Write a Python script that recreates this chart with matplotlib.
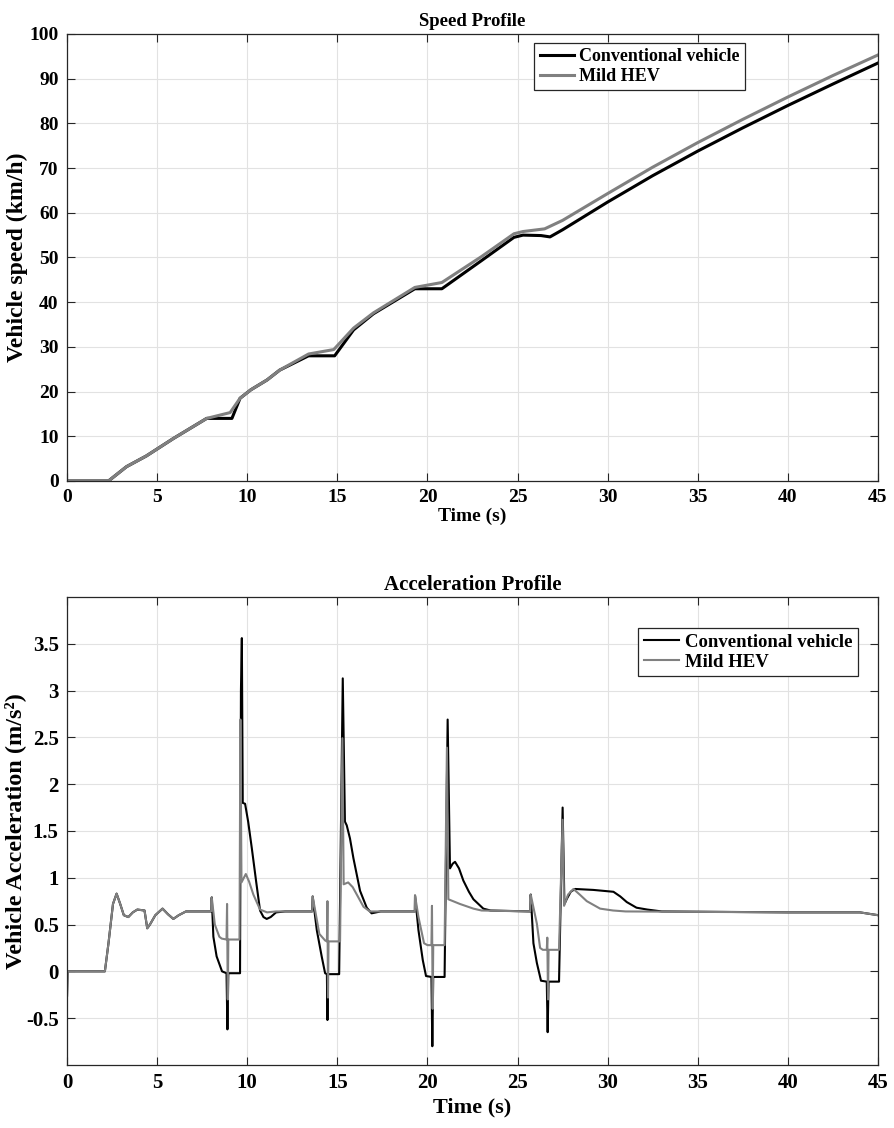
import numpy as np
import matplotlib
matplotlib.use('Agg')
import matplotlib.pyplot as plt

plt.rcParams['font.family'] = ['Liberation Serif', 'DejaVu Serif']
plt.rcParams['font.weight'] = 'bold'
plt.rcParams['axes.labelweight'] = 'bold'
plt.rcParams['axes.titleweight'] = 'bold'

# Speed profile (km/h)
t_speed_conv = [0, 2.3, 3.3, 4.4, 5.9, 7.75, 9.15, 9.6, 10.2, 11.1, 11.8, 13.4, 14.85,
                15.9, 17.0, 19.3, 20.8, 23.0, 24.8, 25.3, 26.3, 26.8, 27.5, 30, 32.5,
                35, 37.5, 40, 42.5, 45]
v_conv = [0, 0, 3.2, 5.6, 9.5, 14.0, 14.0, 18.5, 20.4, 22.6, 24.8, 28.0, 28.0,
          33.8, 37.4, 43.0, 43.0, 49.3, 54.5, 55.0, 54.9, 54.6, 56.2, 62.4, 68.3,
          73.8, 79.0, 84.0, 88.8, 93.5]

t_speed_hev = [0, 2.3, 3.3, 4.4, 5.9, 7.75, 9.05, 9.6, 10.2, 11.1, 11.8, 13.4, 14.8,
               15.9, 17.0, 19.3, 20.8, 23.0, 24.8, 25.3, 26.5, 27.5, 30, 32.5,
               35, 37.5, 40, 42.5, 45]
v_hev = [0, 0, 3.2, 5.6, 9.5, 14.0, 15.3, 18.5, 20.4, 22.6, 24.8, 28.4, 29.4,
         34.2, 37.6, 43.3, 44.4, 50.2, 55.3, 55.8, 56.4, 58.3, 64.3, 70.2,
         75.7, 80.9, 85.9, 90.7, 95.3]

# Acceleration profile (m/s^2)
t_acc_start = [0, 0.03, 2.1, 2.3, 2.55, 2.75, 2.95, 3.15, 3.4, 3.65, 3.9, 4.3, 4.45,
               4.6, 4.9, 5.3, 5.6, 5.9, 6.2, 6.6, 8.0]
a_acc_start = [-0.26, 0, 0, 0.3, 0.72, 0.83, 0.72, 0.6, 0.58, 0.63, 0.66, 0.65, 0.46,
               0.5, 0.6, 0.67, 0.61, 0.56, 0.6, 0.64, 0.64]

t_acc_conv = [8.03, 8.12, 8.3, 8.6, 8.85, 8.9, 8.95, 9.6, 9.65, 9.7, 9.75, 9.88, 10.05,
              10.25, 10.5, 10.71, 10.9, 11.08, 11.3, 11.6, 12.1, 13.6,
              13.63, 13.86, 14.13, 14.32, 14.42, 14.45, 14.48, 15.1, 15.3, 15.42, 15.52,
              15.7, 15.89, 16.26, 16.63, 16.9, 17.4, 19.3,
              19.31, 19.5, 19.74, 19.92, 20.22, 20.27, 20.32, 20.95, 21.12, 21.25, 21.4,
              21.53, 21.75, 21.99, 22.3, 22.55, 23.1, 23.5, 25.7,
              25.73, 25.88, 26.07, 26.3, 26.62, 26.67, 26.72, 27.3, 27.5, 27.6, 27.75,
              27.95, 28.19, 29.2, 30.32, 30.7, 31.06, 31.6, 32.2, 33.0, 40.0, 44.0, 45.0]
a_acc_conv = [0.79, 0.37, 0.16, 0.0, -0.02, -0.62, -0.02, -0.02, 3.0, 3.56, 1.8, 1.79, 1.6,
              1.32, 0.95, 0.65, 0.58, 0.56, 0.58, 0.63, 0.64, 0.64,
              0.80, 0.44, 0.16, -0.02, -0.03, -0.52, -0.03, -0.03, 3.13, 1.6, 1.56,
              1.42, 1.21, 0.86, 0.68, 0.62, 0.64, 0.64,
              0.81, 0.44, 0.12, -0.05, -0.06, -0.8, -0.06, -0.06, 2.69, 1.1, 1.15,
              1.17, 1.1, 0.97, 0.85, 0.77, 0.67, 0.65, 0.64,
              0.82, 0.30, 0.09, -0.1, -0.11, -0.65, -0.11, -0.11, 1.75, 0.72, 0.78,
              0.85, 0.88, 0.87, 0.85, 0.8, 0.74, 0.68, 0.66, 0.64, 0.63, 0.63, 0.60]

t_acc_hev = [8.03, 8.2, 8.45, 8.58, 8.85, 8.88, 8.92, 8.95, 9.57, 9.62, 9.68, 9.92, 10.1,
             10.34, 10.71, 11.1, 11.6, 13.6,
             13.63, 14.0, 14.32, 14.42, 14.45, 14.48, 14.51, 15.15, 15.28, 15.35, 15.6,
             15.85, 16.08, 16.45, 16.8, 19.3,
             19.31, 19.5, 19.81, 20.0, 20.22, 20.25, 20.29, 20.32, 20.95, 21.08, 21.16,
             21.8, 22.55, 23.0, 25.7,
             25.73, 26.07, 26.25, 26.4, 26.62, 26.65, 26.69, 26.72, 27.3, 27.5, 27.58,
             27.8, 28.1, 28.45, 28.84, 29.58, 30.3, 31.0, 40.0, 44.0, 45.0]
a_acc_hev = [0.79, 0.5, 0.37, 0.35, 0.34, 0.72, -0.3, 0.34, 0.34, 2.69, 0.95, 1.04, 0.96,
             0.82, 0.66, 0.63, 0.64, 0.64,
             0.80, 0.40, 0.33, 0.32, 0.75, -0.28, 0.32, 0.32, 2.49, 0.93, 0.95,
             0.9, 0.82, 0.69, 0.64, 0.64,
             0.81, 0.58, 0.30, 0.28, 0.28, 0.70, -0.4, 0.28, 0.28, 2.39, 0.77,
             0.72, 0.67, 0.65, 0.64,
             0.82, 0.51, 0.25, 0.23, 0.23, 0.36, -0.3, 0.23, 0.23, 1.62, 0.7,
             0.82, 0.88, 0.82, 0.75, 0.67, 0.65, 0.64, 0.63, 0.63, 0.60]

labels = ['Conventional vehicle', 'Mild HEV']
black = '#000000'
gray = '#808080'
axis_col = '#262626'

fig = plt.figure(figsize=(8.95, 11.28), dpi=100)
ax1 = fig.add_axes([0.0749, 0.5736, 0.9061, 0.3963])
ax2 = fig.add_axes([0.0749, 0.0559, 0.9061, 0.4149])


def style_axes(ax, fs):
    ax.grid(True, color='#e2e2e2', lw=0.8)
    ax.set_axisbelow(True)
    ax.tick_params(direction='in', top=True, right=True, length=6, width=0.8,
                   color=axis_col, labelsize=fs, pad=6)
    for sp in ax.spines.values():
        sp.set_color(axis_col)
        sp.set_linewidth(0.9)


# Speed profile
ax1.plot(t_speed_conv, v_conv, color=black, lw=2.2, label=labels[0])
ax1.plot(t_speed_hev, v_hev, color=gray, lw=2.2, label=labels[1])
ax1.set_xlim(0, 45)
ax1.set_ylim(0, 100)
ax1.set_xticks(np.arange(0, 46, 5))
ax1.set_yticks(np.arange(0, 101, 10))
style_axes(ax1, 14)
ax1.set_title('Speed Profile', fontsize=13.5, pad=6)
ax1.set_xlabel('Time (s)', fontsize=14, labelpad=1)
ax1.set_ylabel('Vehicle speed (km/h)', fontsize=17, labelpad=1)
leg1 = ax1.legend(loc='upper left', bbox_to_anchor=(0.576, 0.98), borderaxespad=0,
                  fontsize=13, fancybox=False, edgecolor=axis_col, framealpha=1,
                  handlelength=1.9, handletextpad=0.3, borderpad=0.3, labelspacing=0.15)
leg1.get_frame().set_linewidth(0.9)

# Acceleration profile
ax2.plot(t_acc_start + t_acc_conv, a_acc_start + a_acc_conv, color=black, lw=1.5, label=labels[0])
ax2.plot(t_acc_start + t_acc_hev, a_acc_start + a_acc_hev, color=gray, lw=1.5, label=labels[1])
ax2.set_xlim(0, 45)
ax2.set_ylim(-1, 4)
ax2.set_xticks(np.arange(0, 46, 5))
ax2.set_yticks(np.arange(-0.5, 3.6, 0.5))
ax2.set_yticklabels(['-0.5', '0', '0.5', '1', '1.5', '2', '2.5', '3', '3.5'])
style_axes(ax2, 15)
ax2.set_title('Acceleration Profile', fontsize=15, pad=5)
ax2.set_xlabel('Time (s)', fontsize=16, labelpad=3)
ax2.set_ylabel('Vehicle Acceleration (m/s²)', fontsize=17.5, labelpad=0)
leg2 = ax2.legend(loc='upper left', bbox_to_anchor=(0.704, 0.934), borderaxespad=0,
                  fontsize=13.5, fancybox=False, edgecolor=axis_col, framealpha=1,
                  handlelength=1.9, handletextpad=0.3, borderpad=0.3, labelspacing=0.15)
leg2.get_frame().set_linewidth(0.9)

plt.savefig('out.png', dpi=100)
